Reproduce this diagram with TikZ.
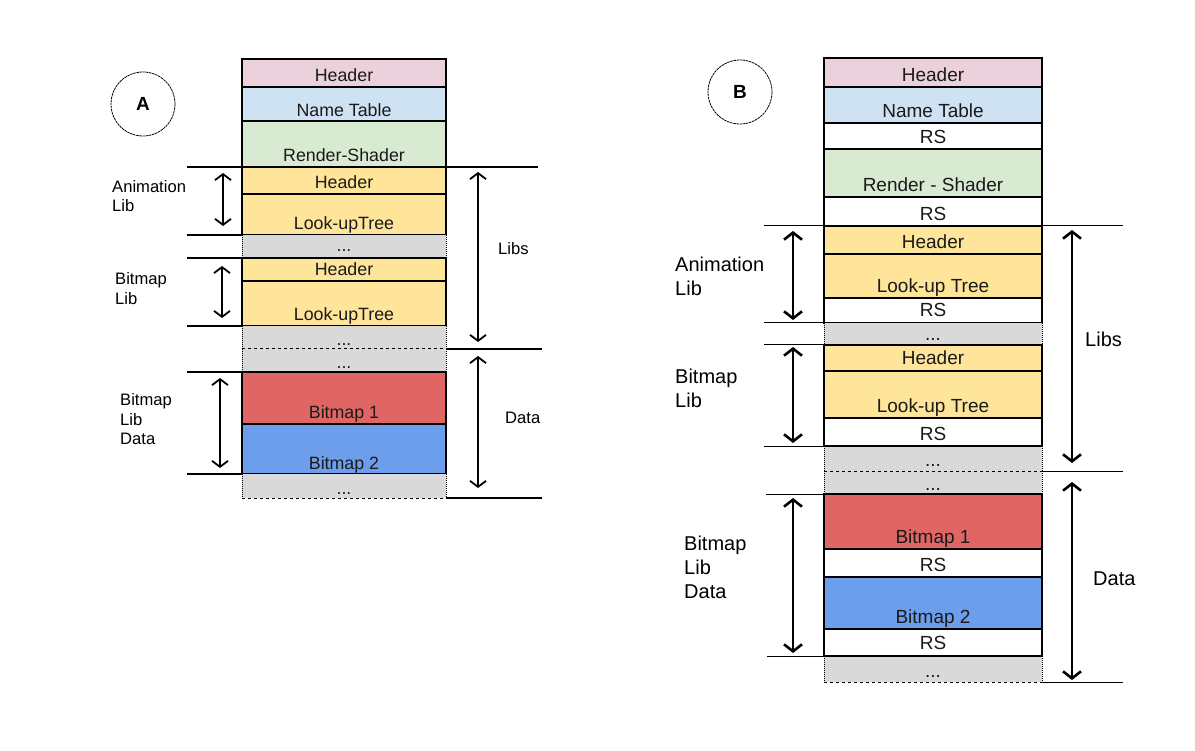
\documentclass[tikz,border=0pt]{standalone}
\usepackage{fontspec}
\setmainfont{Liberation Sans}
\usetikzlibrary{arrows.meta}
\definecolor{cpink}{HTML}{EAD1DC}
\definecolor{cblue}{HTML}{CFE2F3}
\definecolor{cgreen}{HTML}{D9EAD3}
\definecolor{cyellow}{HTML}{FFE599}
\definecolor{cgray}{HTML}{D9D9D9}
\definecolor{cred}{HTML}{E06666}
\definecolor{cbmp}{HTML}{6D9EEB}
\definecolor{ctext}{HTML}{1A1A1A}
\tikzset{
  cellborder/.style={draw=black,line width=1.1pt},
  celltext/.style={anchor=base,inner sep=0pt,text=ctext},
  atext/.style={celltext,font=\fontsize{17.8}{20}\selectfont},
  btext/.style={celltext,font=\fontsize{19}{22}\selectfont},
  alabel/.style={anchor=base west,inner sep=0pt,font=\fontsize{16.6}{19}\selectfont},
  blabel/.style={anchor=base west,inner sep=0pt,font=\fontsize{20}{23}\selectfont},
  aline/.style={line width=2pt},
  bline/.style={line width=1pt},
  aarrow/.style={line width=1.8pt,{Straight Barb[length=6pt,width=16pt]}-{Straight Barb[length=6pt,width=16pt]}},
  barrow/.style={line width=2.6pt,{Straight Barb[length=7pt,width=18pt]}-{Straight Barb[length=7pt,width=18pt]}},
  circ/.style={circle,draw=black,line width=0.8pt,dash pattern=on 2.5pt off 0.7pt,minimum size=64pt,inner sep=0pt},
  circletter/.style={anchor=base,inner sep=0pt,font=\bfseries\fontsize{19}{21}\selectfont},
}
% name, x1, x2, ytop, ybot, fill, baseline, text ; style in \cellstyle
\newcommand\mycell[8]{%
  \filldraw[cellborder,fill=#6] (#2,#4) rectangle (#3,#5);
  \node[\cellstyle] (#1) at ({(#2+#3)/2},#7) {#8};}
% name, x1, x2, ytop, ybot, baseline
\newcommand\mygray[6]{%
  \fill[cgray] (#2,#4) rectangle (#3,#5);
  \draw[line width=1pt,densely dotted] (#2,#4) -- (#2,#5) (#3,#4) -- (#3,#5);
  \node[\cellstyle] (#1) at ({(#2+#3)/2},#6) {...};}
\begin{document}
\begin{tikzpicture}[x=1pt,y=-1pt]
\useasboundingbox (0,0) rectangle (1195,751);
\fill[white] (0,0) rectangle (1195,751);

% ================= A =================
\def\cellstyle{atext}
\node[circ] (circA) at (143,104) {};
\node[circletter] (letA) at (143,110.5) {A};

\mycell{aHead}{242}{446}{59}{87}{cpink}{82}{Header}
\mycell{aName}{242}{446}{87}{121}{cblue}{116.5}{Name Table}
\mycell{aRend}{242}{446}{121}{167}{cgreen}{161.5}{Render-Shader}
\mycell{aH1}{242}{446}{167}{194}{cyellow}{189}{Header}
\mycell{aT1}{242}{446}{194}{235}{cyellow}{230}{Look-upTree}
\mygray{aG1}{242}{446}{235}{258}{252}
\mycell{aH2}{242}{446}{258}{281}{cyellow}{275.5}{Header}
\mycell{aT2}{242}{446}{281}{326}{cyellow}{321}{Look-upTree}
\mygray{aG2}{242}{446}{326}{349}{346}
\mygray{aG3}{242}{446}{349}{372}{369}
\mycell{aB1}{242}{446}{372}{424}{cred}{419}{Bitmap 1}
\mycell{aB2}{242}{446}{424}{474}{cbmp}{469}{Bitmap 2}
\mygray{aG4}{242}{446}{474}{498}{494}
\draw[line width=1pt] (242,235) -- (446,235) (242,258) -- (446,258);
\draw[line width=1pt,dashed] (242,349) -- (446,349) (242,498) -- (446,498);

% separator lines A
\draw[aline] (187,167) -- (242,167);
\draw[aline] (446,167) -- (538,167);
\draw[aline] (187,235) -- (242,235);
\draw[aline] (187,258) -- (242,258);
\draw[aline] (187,326) -- (242,326);
\draw[aline] (446,349) -- (542,349);
\draw[aline] (187,372) -- (242,372);
\draw[aline] (187,474) -- (242,474);
\draw[aline] (446,498) -- (542,498);

% arrows A
\coordinate (aAn1) at (223,173); \coordinate (aAn2) at (223,226);
\coordinate (aBl1) at (222,266); \coordinate (aBl2) at (222,318);
\coordinate (aBd1) at (220,378); \coordinate (aBd2) at (220,468);
\coordinate (aLb1) at (478,172); \coordinate (aLb2) at (478,342);
\coordinate (aDt1) at (478,356); \coordinate (aDt2) at (478,488);
\draw[aarrow] (aAn1) -- (aAn2);
\draw[aarrow] (aBl1) -- (aBl2);
\draw[aarrow] (aBd1) -- (aBd2);
\draw[aarrow] (aLb1) -- (aLb2);
\draw[aarrow] (aDt1) -- (aDt2);

% labels A
\node[alabel] (aLabAn1) at (112,192.5) {Animation};
\node[alabel] (aLabAn2) at (112,212) {Lib};
\node[alabel] (aLabBl1) at (115,285) {Bitmap};
\node[alabel] (aLabBl2) at (115,305) {Lib};
\node[alabel] (aLabBd1) at (120,406) {Bitmap};
\node[alabel] (aLabBd2) at (120,425.5) {Lib};
\node[alabel] (aLabBd3) at (120,445) {Data};
\node[alabel] (aLabLibs) at (498,255) {Libs};
\node[alabel] (aLabData) at (505,424) {Data};

% ================= B =================
\def\cellstyle{btext}
\node[circ] (circB) at (740,92) {};
\node[circletter] (letB) at (740,99) {B};

\mycell{bHead}{824}{1042}{58}{87}{cpink}{81.5}{Header}
\mycell{bName}{824}{1042}{87}{123}{cblue}{118}{Name Table}
\mycell{bRS1}{824}{1042}{123}{149}{white}{144}{RS}
\mycell{bRend}{824}{1042}{149}{197}{cgreen}{192}{Render - Shader}
\mycell{bRS2}{824}{1042}{197}{226}{white}{220.5}{RS}
\mycell{bH1}{824}{1042}{226}{254}{cyellow}{249}{Header}
\mycell{bT1}{824}{1042}{254}{298}{cyellow}{293}{Look-up Tree}
\mycell{bRS3}{824}{1042}{298}{323}{white}{317}{RS}
\mygray{bG1}{824}{1042}{323}{345}{340.5}
\mycell{bH2}{824}{1042}{345}{371}{cyellow}{365}{Header}
\mycell{bT2}{824}{1042}{371}{418}{cyellow}{413}{Look-up Tree}
\mycell{bRS4}{824}{1042}{418}{446}{white}{440}{RS}
\mygray{bG2}{824}{1042}{446}{471}{466}
\mygray{bG3}{824}{1042}{471}{494}{490}
\mycell{bB1}{824}{1042}{494}{549}{cred}{543.5}{Bitmap 1}
\mycell{bRS5}{824}{1042}{549}{577}{white}{571}{RS}
\mycell{bB2}{824}{1042}{577}{629}{cbmp}{623.5}{Bitmap 2}
\mycell{bRS6}{824}{1042}{629}{656}{white}{649}{RS}
\mygray{bG4}{824}{1042}{656}{682}{677}
\draw[line width=1pt] (824,323) -- (1042,323) (824,345) -- (1042,345) (824,446) -- (1042,446) (824,494) -- (1042,494) (824,656) -- (1042,656);
\draw[line width=1pt,dashed] (824,471) -- (1042,471) (824,682) -- (1042,682);

% separator lines B
\draw[bline] (764,226) -- (824,226);
\draw[bline] (1042,226) -- (1123,226);
\draw[bline] (764,323) -- (824,323);
\draw[bline] (764,345) -- (824,345);
\draw[bline] (764,446) -- (824,446);
\draw[bline] (1042,471) -- (1123,471);
\draw[bline] (766,494) -- (824,494);
\draw[bline] (767,656) -- (824,656);
\draw[bline] (1042,682) -- (1123,682);

% arrows B
\coordinate (bAn1) at (793,231); \coordinate (bAn2) at (793,320);
\coordinate (bBl1) at (793,347); \coordinate (bBl2) at (793,443);
\coordinate (bBd1) at (793,498); \coordinate (bBd2) at (793,653);
\coordinate (bLb1) at (1072,230); \coordinate (bLb2) at (1072,463);
\coordinate (bDt1) at (1072,482); \coordinate (bDt2) at (1072,680);
\draw[barrow] (bAn1) -- (bAn2);
\draw[barrow] (bBl1) -- (bBl2);
\draw[barrow] (bBd1) -- (bBd2);
\draw[barrow] (bLb1) -- (bLb2);
\draw[barrow] (bDt1) -- (bDt2);

% labels B
\node[blabel] (bLabAn1) at (675,272) {Animation};
\node[blabel] (bLabAn2) at (675,295.5) {Lib};
\node[blabel] (bLabBl1) at (675,383.5) {Bitmap};
\node[blabel] (bLabBl2) at (675,407) {Lib};
\node[blabel] (bLabBd1) at (684,550.5) {Bitmap};
\node[blabel] (bLabBd2) at (684,574) {Lib};
\node[blabel] (bLabBd3) at (684,598) {Data};
\node[blabel] (bLabLibs) at (1085,347) {Libs};
\node[blabel] (bLabData) at (1093,585) {Data};
\end{tikzpicture}
\end{document}
